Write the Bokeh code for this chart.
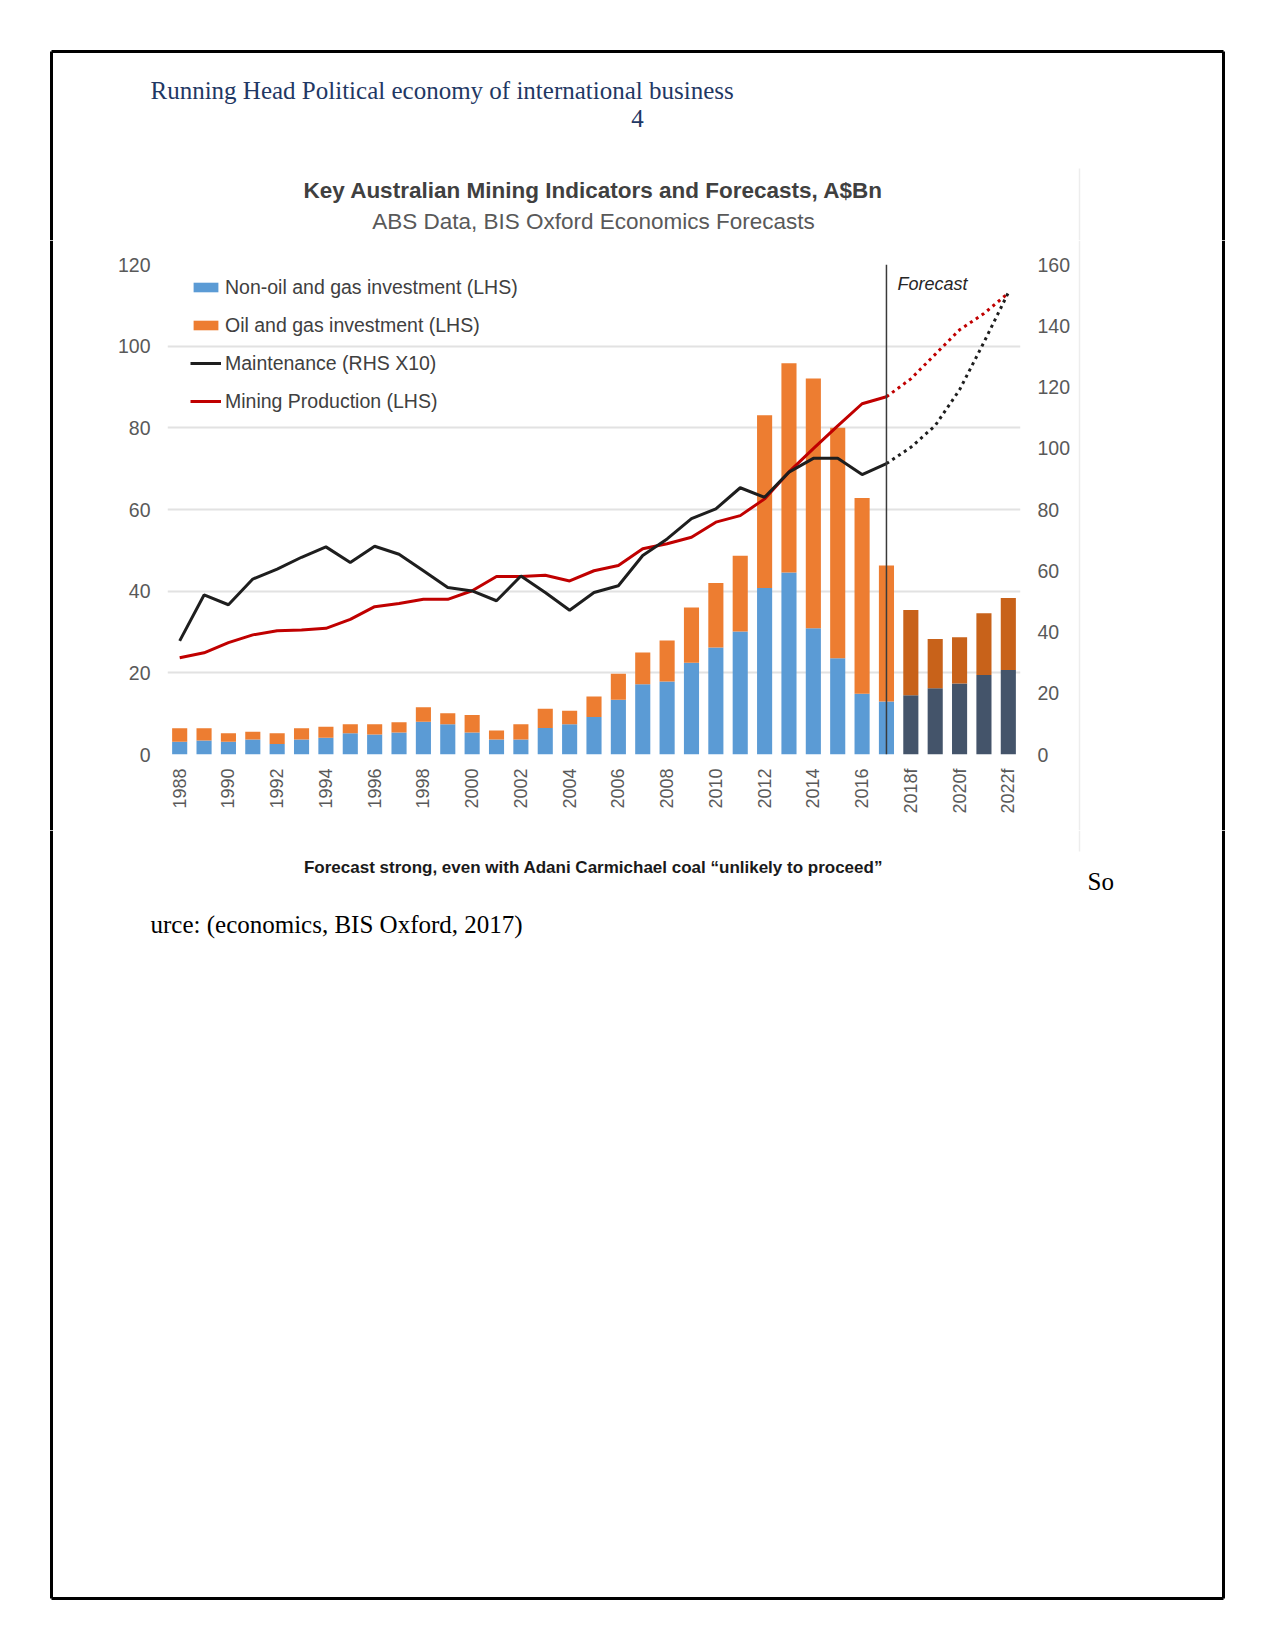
import math
from bokeh.plotting import figure
from bokeh.layouts import column, row
from bokeh.models import (Range1d, LinearAxis, FixedTicker, Label, Legend, LegendItem,
                          Span, ColumnDataSource)
from bokeh.embed import file_html
from bokeh.resources import INLINE

# ---------------- data (A$Bn) ----------------
years = list(range(1988, 2023))
non_oil_gas = [3.1, 3.4, 3.1, 3.7, 2.6, 3.7, 4.1, 5.2, 4.9, 5.4,
               8.0, 7.4, 5.4, 3.7, 3.7, 6.5, 7.4, 9.2, 13.4, 17.2,
               17.9, 22.5, 26.2, 30.1, 40.8, 44.6, 30.9, 23.6, 14.9, 13.0,
               14.5, 16.2, 17.4, 19.5, 20.7]
oil_gas = [3.3, 3.0, 2.1, 1.9, 2.6, 2.7, 2.7, 2.2, 2.5, 2.5,
           3.6, 2.7, 4.3, 2.2, 3.7, 4.7, 3.3, 5.0, 6.4, 7.8,
           10.0, 13.5, 15.8, 18.6, 42.3, 51.2, 61.2, 56.4, 47.9, 33.3,
           20.9, 12.1, 11.3, 15.1, 17.6]
first_forecast_year = 2018

line_years = list(range(1988, 2018))
mining_production = [23.7, 24.9, 27.4, 29.3, 30.3, 30.5, 30.9, 33.1, 36.2, 37.0,
                     38.0, 38.0, 40.1, 43.6, 43.6, 43.9, 42.5, 45.0, 46.3, 50.4,
                     51.6, 53.2, 56.9, 58.5, 62.6, 69.2, 74.9, 80.5, 85.9, 87.6]
maintenance_x10 = [37.1, 52.1, 48.9, 57.3, 60.5, 64.4, 67.8, 62.7, 68.0, 65.4,
                   60.0, 54.5, 53.4, 50.2, 58.3, 52.9, 47.1, 52.9, 55.1, 65.0,
                   70.4, 77.0, 80.2, 87.1, 84.0, 92.2, 96.7, 96.7, 91.4, 95.0]
forecast_years = [2017, 2018, 2019, 2020, 2021, 2022]
mining_production_fc = [87.6, 92.0, 98.0, 104.0, 108.0, 113.0]
maintenance_x10_fc = [95.0, 100.3, 107.4, 119.1, 134.6, 150.8]

lhs_ticks = [0, 20, 40, 60, 80, 100, 120]
rhs_ticks = [0, 20, 40, 60, 80, 100, 120, 140, 160]
tick_years = list(range(1988, 2023, 2))
tick_labels = [str(y) if y < first_forecast_year else f"{y}f" for y in tick_years]

# ---------------- styling ----------------
SANS = "Liberation Sans"
SERIF = "Liberation Serif"
BLUE, ORANGE = "#5B9BD5", "#ED7D31"
BLUE_FC, ORANGE_FC = "#44546A", "#C8621A"
RED, BLACK = "#C00000", "#1E1E1E"
AXIS_GREY = "#595959"
IMG_EDGE = "#EDEDED"

W, H = 1275, 1651
TOP_H = 240          # header strip height
MID_H = 590          # chart strip height
LEFT_W, MID_W = 100, 976
RIGHT_W = W - LEFT_W - MID_W
FOOT_H = H - TOP_H - MID_H
BORDER = dict(line_color="black", line_width=3)
BL, BR, BT, BB = 51, 1223, 51, 1598   # page border on the page
EDGE_X, EDGE_T, EDGE_B = 1079, 168, 851


def no_align(f):
    try:
        f.frame_align = False
    except Exception:
        pass


def deco_fig(w, h, x0, y0):
    """Plain figure whose data coordinates are page pixels (y downwards)."""
    f = figure(width=w, height=h, x_range=Range1d(x0, x0 + w),
               y_range=Range1d(y0 + h, y0), x_axis_type=None, y_axis_type=None,
               min_border=0, output_backend="svg", toolbar_location=None)
    f.outline_line_color = None
    f.background_fill_color = "white"
    f.border_fill_color = "white"
    no_align(f)
    return f


def add_text(f, text, X, Y, size, font, color, align="left", style="normal"):
    f.add_layout(Label(x=X, y=Y, text=text, text_font=font, text_font_size=size,
                       text_color=color, text_align=align, text_baseline="middle",
                       text_font_style=style))


# ---------------- header strip ----------------
top = deco_fig(W, TOP_H, 0, 0)
top.segment(x0=[BL, BL, BR], y0=[BT, BT, BT], x1=[BR, BL, BR], y1=[BT, TOP_H, TOP_H], **BORDER)
top.segment(x0=[EDGE_X], y0=[EDGE_T], x1=[EDGE_X], y1=[TOP_H], line_color=IMG_EDGE, line_width=1.5)
add_text(top, "Running Head Political economy of international business", 150, 90,
         "25px", SERIF, "#1F3864")
add_text(top, "4", 637, 118, "25px", SERIF, "#1F3864", "center")
add_text(top, "Key Australian Mining Indicators and Forecasts, A$Bn", 593, 190,
         "22.5px", SANS, "#404040", "center", "bold")
add_text(top, "ABS Data, BIS Oxford Economics Forecasts", 593, 221,
         "22.5px", SANS, "#595959", "center")

# ---------------- side strips ----------------
left = deco_fig(LEFT_W, MID_H, 0, TOP_H)
left.segment(x0=[BL], y0=[TOP_H], x1=[BL], y1=[TOP_H + MID_H], **BORDER)
right = deco_fig(RIGHT_W, MID_H, LEFT_W + MID_W, TOP_H)
right.segment(x0=[BR], y0=[TOP_H], x1=[BR], y1=[TOP_H + MID_H], **BORDER)
right.segment(x0=[EDGE_X], y0=[TOP_H], x1=[EDGE_X], y1=[TOP_H + MID_H],
              line_color=IMG_EDGE, line_width=1.5)

# ---------------- chart ----------------
FL, FR, FT, FB = 167, 1020, 264, 754   # frame edges on the page
p = figure(width=MID_W, height=MID_H, output_backend="svg", toolbar_location=None,
           x_range=Range1d(1987.5, 2022.5), y_range=Range1d(0, 120),
           min_border_left=FL - LEFT_W, min_border_right=LEFT_W + MID_W - FR,
           min_border_top=FT - TOP_H, min_border_bottom=TOP_H + MID_H - FB)
no_align(p)
p.outline_line_color = None
p.background_fill_color = "white"
p.border_fill_color = "white"
p.xgrid.visible = False
p.ygrid.ticker = FixedTicker(ticks=lhs_ticks)
p.ygrid.grid_line_color = "#E2E2E2"
p.ygrid.grid_line_width = 2
p.extra_y_ranges = {"rhs": Range1d(0, 160)}


def style_axis(ax):
    ax.axis_line_color = None
    ax.major_tick_line_color = None
    ax.minor_tick_line_color = None
    ax.major_label_text_color = AXIS_GREY
    ax.major_label_text_font = SANS


yl = p.yaxis[0]
yl.ticker = FixedTicker(ticks=lhs_ticks)
style_axis(yl)
yl.major_label_text_font_size = "19.5px"
yl.major_label_standoff = 11

yr = LinearAxis(y_range_name="rhs", ticker=FixedTicker(ticks=rhs_ticks))
style_axis(yr)
yr.major_label_text_font_size = "19.5px"
yr.major_label_standoff = 11
p.add_layout(yr, "right")

xa = p.xaxis[0]
xa.ticker = FixedTicker(ticks=tick_years)
xa.major_label_overrides = {y: l for y, l in zip(tick_years, tick_labels)}
xa.major_label_orientation = math.pi / 2
style_axis(xa)
xa.major_label_text_font_size = "18px"
xa.major_label_standoff = 8


def bar_source(sel):
    idx = [i for i, y in enumerate(years) if sel(y)]
    return ColumnDataSource(dict(
        x=[years[i] for i in idx],
        non_oil=[non_oil_gas[i] for i in idx],
        total=[non_oil_gas[i] + oil_gas[i] for i in idx]))


hist = bar_source(lambda y: y < first_forecast_year)
fc = bar_source(lambda y: y >= first_forecast_year)
BW = 0.62
r_non = p.vbar(x="x", bottom=0, top="non_oil", width=BW, source=hist,
               fill_color=BLUE, line_color=None)
r_oil = p.vbar(x="x", bottom="non_oil", top="total", width=BW, source=hist,
               fill_color=ORANGE, line_color=None)
p.vbar(x="x", bottom=0, top="non_oil", width=BW, source=fc,
       fill_color=BLUE_FC, line_color=None)
p.vbar(x="x", bottom="non_oil", top="total", width=BW, source=fc,
       fill_color=ORANGE_FC, line_color=None)

p.add_layout(Span(location=forecast_years[0], dimension="height",
                  line_color="#3A3A3A", line_width=1.5))

r_mining = p.line(line_years, mining_production, line_color=RED, line_width=3)
r_maint = p.line(line_years, maintenance_x10, line_color=BLACK, line_width=3,
                 y_range_name="rhs")
p.line(forecast_years, mining_production_fc, line_color=RED, line_width=3,
       line_dash="3 4")
p.line(forecast_years, maintenance_x10_fc, line_color=BLACK, line_width=3,
       line_dash="3 4", y_range_name="rhs")

p.add_layout(Label(x=forecast_years[0] + 0.45, y=115.3, text="Forecast",
                   text_font=SANS, text_font_size="18px", text_font_style="italic",
                   text_color="#262626", text_baseline="middle"))

legend = Legend(items=[
    LegendItem(label="Non-oil and gas investment (LHS)", renderers=[r_non]),
    LegendItem(label="Oil and gas investment (LHS)", renderers=[r_oil]),
    LegendItem(label="Maintenance (RHS X10)", renderers=[r_maint]),
    LegendItem(label="Mining Production (LHS)", renderers=[r_mining]),
], location=(190 - FL, FB - 413))
legend.background_fill_alpha = 0
legend.border_line_alpha = 0
legend.padding = 0
legend.margin = 0
legend.glyph_width = 31
legend.glyph_height = 12
legend.label_standoff = 4
legend.label_height = 24
legend.spacing = 14
legend.label_text_font = SANS
legend.label_text_font_size = "19.5px"
legend.label_text_color = "#404040"
p.add_layout(legend)

# ---------------- footer strip ----------------
foot = deco_fig(W, FOOT_H, 0, TOP_H + MID_H)
y_foot = TOP_H + MID_H
foot.segment(x0=[BL, BR, BL], y0=[y_foot, y_foot, BB], x1=[BL, BR, BR], y1=[BB, BB, BB], **BORDER)
foot.segment(x0=[EDGE_X], y0=[y_foot], x1=[EDGE_X], y1=[EDGE_B], line_color=IMG_EDGE, line_width=1.5)
add_text(foot, "Forecast strong, even with Adani Carmichael coal \u201cunlikely to proceed\u201d",
         593, 867, "17px", SANS, "#1A1A1A", "center", "bold")
add_text(foot, "So", 1087, 881, "25px", SERIF, "#000000")
add_text(foot, "urce: (economics, BIS Oxford, 2017)", 150, 924, "25px", SERIF, "#000000")

page = column(top, row(left, p, right, spacing=0), foot, spacing=0)
open("out.html", "w").write(file_html(page, INLINE))
